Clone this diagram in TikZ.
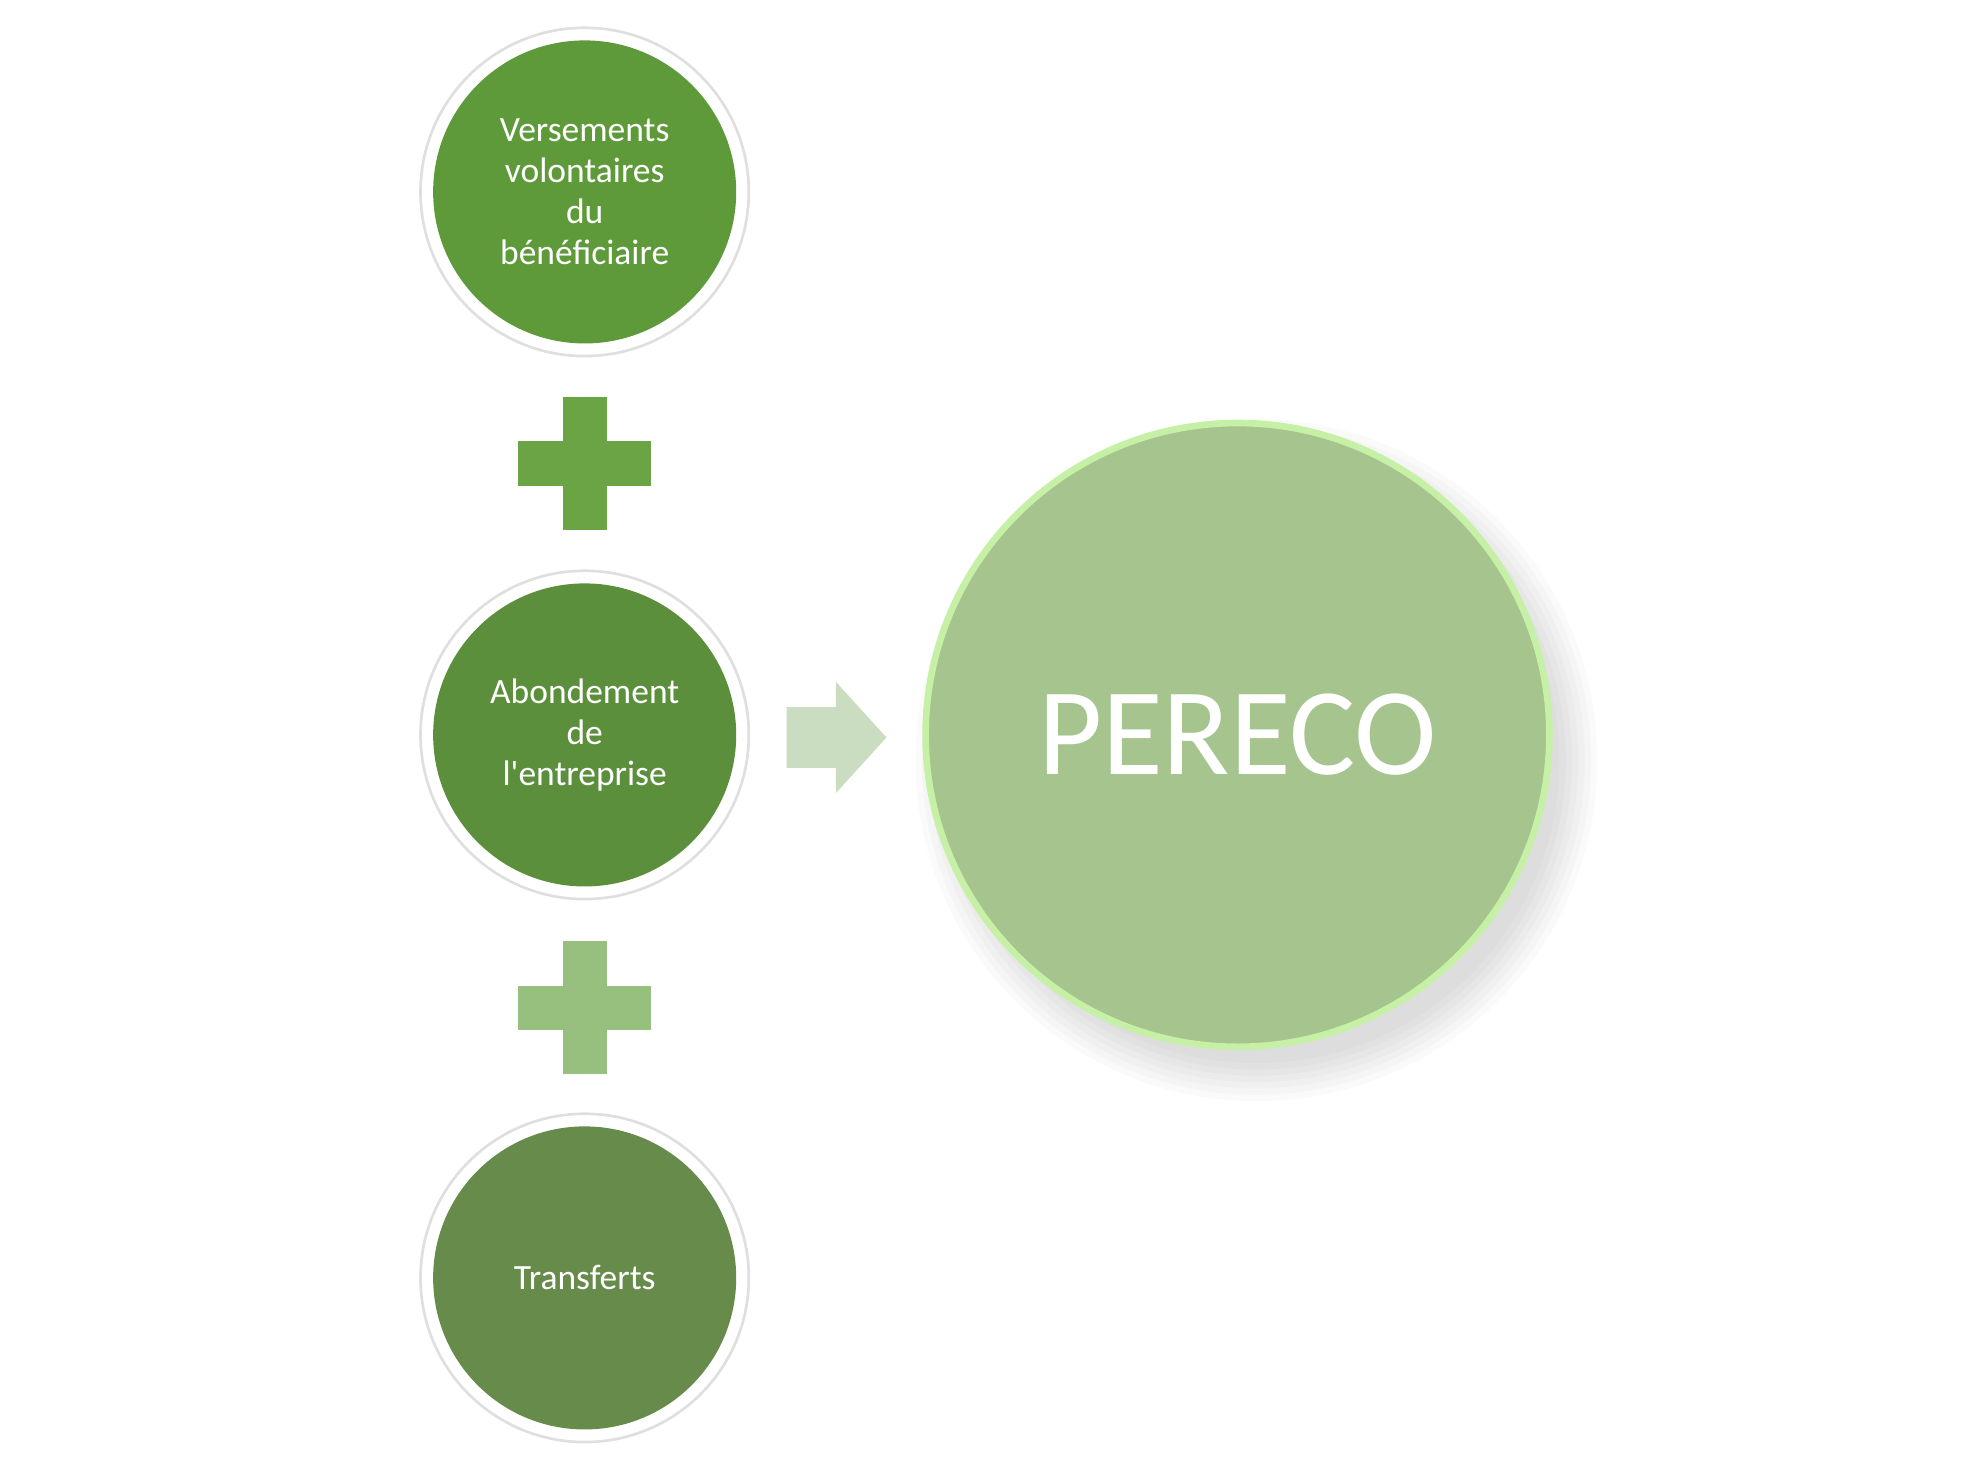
\documentclass[tikz,border=0pt]{standalone}
\usepackage{fontspec}
\setmainfont{Carlito}
\usetikzlibrary{positioning}
\definecolor{greenA}{HTML}{5E9A3A}
\definecolor{greenB}{HTML}{5B8F3C}
\definecolor{greenC}{HTML}{678B4B}
\definecolor{plusA}{HTML}{6AA444}
\definecolor{plusB}{HTML}{97C07E}
\definecolor{arrowC}{HTML}{CADDC0}
\definecolor{bigC}{HTML}{A6C48E}
\definecolor{bigEdge}{HTML}{C6F0A6}
\tikzset{
  ring/.style={circle, draw=gray!25, line width=0.6pt, fill=white, minimum size=2.6cm, inner sep=0pt},
  disc/.style={circle, draw=none, minimum size=2.4cm, inner sep=0pt, text=white, align=center, font=\fontsize{8}{9.2}\selectfont},
  big/.style={circle, draw=bigEdge, line width=1.5pt, fill=bigC, minimum size=4.94cm, inner sep=0pt, text=white, font=\fontsize{28}{34}\selectfont}
}
\newcommand{\plussign}[3]{%
  \fill[#3] (#1-0.525,#2-0.175) rectangle (#1+0.525,#2+0.175);
  \fill[#3] (#1-0.175,#2-0.525) rectangle (#1+0.175,#2+0.525);}
\begin{document}
\begin{tikzpicture}
        \useasboundingbox (0,0) rectangle (15.68,11.74);
        % soft shadow of the big circle
        \foreach \r in {2.40,2.45,...,2.75} {
            \fill[black, opacity=0.02] (9.95,5.72) circle (\r);
        }
        \node[big] (pereco) at (9.8,5.92) {PERECO};
        % left column
        \node[ring] (r1) at (4.63,10.22) {};
        \node[disc, fill=greenA] (versements) at (r1) {Versements\\volontaires\\du\\bénéficiaire};
        \node[ring] (r2) at (4.63,5.92) {};
        \node[disc, fill=greenB] (abondement) at (r2) {Abondement\\de\\l\textquotesingle entreprise};
        \node[ring] (r3) at (4.63,1.62) {};
        \node[disc, fill=greenC] (transferts) at (r3) {Transferts};
        \plussign{4.63}{8.07}{plusA}
        \plussign{4.63}{3.76}{plusB}
        % arrow
        \fill[arrowC] (6.23,6.14) -- (6.62,6.14) -- (6.62,6.34) -- (7.02,5.9) -- (6.62,5.46) -- (6.62,5.66) -- (6.23,5.66) -- cycle;
\end{tikzpicture}
\end{document}
